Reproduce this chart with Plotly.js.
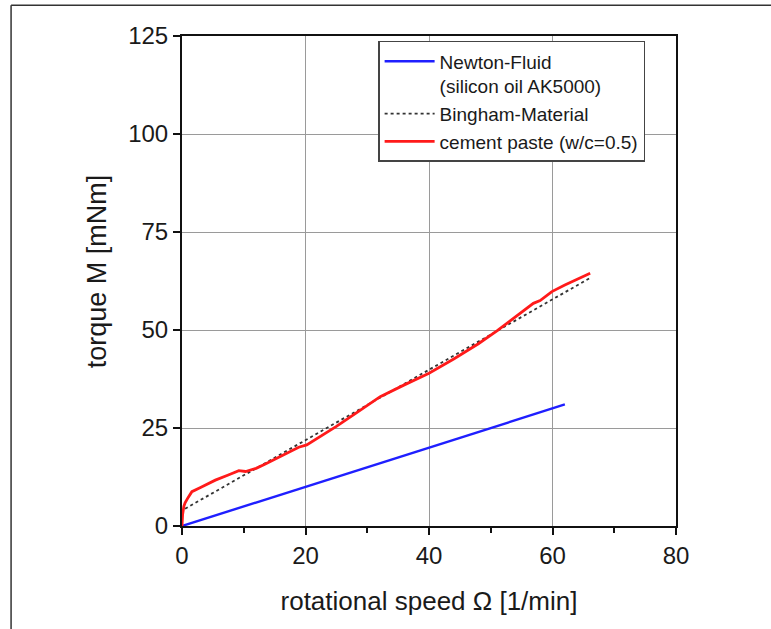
<!DOCTYPE html>
<html>
<head>
<meta charset="utf-8">
<script src="https://cdn.plot.ly/plotly-3.0.1.min.js"></script>
<style>html,body{margin:0;padding:0;background:#fff;}#plot{width:771px;height:629px;}</style>
</head>
<body>
<div id="plot"></div>
<script>
// Newton fluid (silicon oil AK5000)
const newtonX = [0, 62];
const newtonY = [0, 31];
// Bingham material model line
const binghamX = [0.5, 66];
const binghamY = [4.4, 63.2];
// cement paste (w/c=0.5)
const cementX = [0, 0.1, 0.3, 0.5, 1, 1.6, 3, 5.4, 7.5, 9.2, 10.3, 12, 13.5, 16, 18.9, 20.2, 25, 28, 32.1, 36, 40, 44, 48, 51, 54.7, 56.9, 58, 59.9, 62, 64, 66.1];
const cementY = [0, 3, 5, 5.9, 7.3, 8.75, 9.8, 11.7, 13, 14.1, 13.9, 14.7, 15.8, 17.8, 20.1, 20.7, 25.4, 28.6, 33, 36, 38.95, 42.6, 46.5, 49.8, 54.3, 56.8, 57.5, 59.8, 61.5, 63, 64.5];

const xTicks = [0, 20, 40, 60, 80];
const yTicks = [0, 25, 50, 75, 100, 125];

const FONT = 'Liberation Sans, Arial, sans-serif';

const traces = [
  {x: newtonX, y: newtonY, mode: 'lines', name: 'Newton-Fluid<br>(silicon oil AK5000)',
   line: {color: '#1f1fff', width: 2.4}},
  {x: binghamX, y: binghamY, mode: 'lines', name: 'Bingham-Material',
   line: {color: '#333333', width: 1.8, dash: 'dot'}},
  {x: cementX, y: cementY, mode: 'lines', name: 'cement paste (w/c=0.5)',
   line: {color: '#ff1a1a', width: 2.8}}
];

const layout = {
  width: 771, height: 629,
  margin: {l: 182, r: 95, t: 36, b: 103},
  paper_bgcolor: '#ffffff', plot_bgcolor: '#ffffff',
  font: {family: FONT, color: '#222'},
  showlegend: true,
  legend: {
    x: 0.397, y: 0.99, xanchor: 'left', yanchor: 'top',
    bgcolor: '#ffffff', bordercolor: '#444444', borderwidth: 1.5,
    font: {family: FONT, size: 19, color: '#1a1a1a'},
    valign: 'top', tracegroupgap: 0, itemwidth: 50,
    entrywidth: 222, entrywidthmode: 'pixels'
  },
  xaxis: {
    range: [0, 80], tickvals: xTicks, ticktext: xTicks.map(String),
    showline: true, linecolor: '#111', linewidth: 2, mirror: true,
    ticks: 'outside', ticklen: 7, tickwidth: 2, tickcolor: '#111',
    minor: {tickvals: [10, 30, 50, 70], ticks: 'outside', ticklen: 5, tickwidth: 2, tickcolor: '#111', showgrid: false},
    showgrid: true, gridcolor: '#9a9a9a', gridwidth: 1,
    zeroline: false,
    tickfont: {family: FONT, size: 24, color: '#1a1a1a'},
    title: {text: 'rotational speed Ω [1/min]', font: {family: FONT, size: 26, color: '#1a1a1a'}, standoff: 24}
  },
  yaxis: {
    range: [0, 125], tickvals: yTicks, ticktext: yTicks.map(String),
    showline: true, linecolor: '#111', linewidth: 2, mirror: true,
    ticks: 'outside', ticklen: 7, tickwidth: 2, tickcolor: '#111',
    showgrid: true, gridcolor: '#9a9a9a', gridwidth: 1,
    zeroline: false,
    tickfont: {family: FONT, size: 24, color: '#1a1a1a'}
  },
  annotations: [
    {text: 'torque M [mNm]', xref: 'paper', yref: 'paper', x: -0.172, y: 0.52,
     xanchor: 'center', yanchor: 'middle', textangle: -90, showarrow: false,
     font: {family: FONT, size: 27, color: '#1a1a1a'}}
  ],
  shapes: [
    {type: 'line', xref: 'paper', yref: 'paper', x0: -0.346, x1: -0.346, y0: 1.063, y1: -0.25,
     line: {color: '#333', width: 1.5}},
    {type: 'line', xref: 'paper', yref: 'paper', x0: -0.346, x1: 1.25, y0: 1.063, y1: 1.063,
     line: {color: '#333', width: 1.5}}
  ]
};

Plotly.newPlot('plot', traces, layout, {displayModeBar: false, staticPlot: true});
</script>
</body>
</html>
